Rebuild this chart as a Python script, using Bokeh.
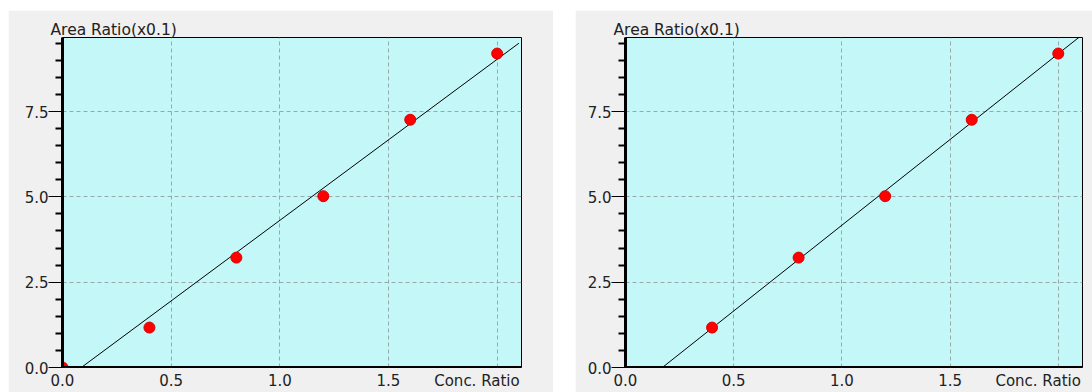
import numpy as np
from bokeh.plotting import figure
from bokeh.models import FixedTicker, Range1d, LinearAxis, Title
from bokeh.layouts import row
from bokeh.embed import file_html
from bokeh.resources import INLINE

# ---- data ----
conc_left = [0.0, 0.4, 0.8, 1.2, 1.6, 2.0]
area_left = [0.0, 1.17, 3.22, 5.02, 7.26, 9.20]
conc_right = [0.4, 0.8, 1.2, 1.6, 2.0]
area_right = [1.17, 3.22, 5.02, 7.26, 9.20]

x_major = [0.0, 0.5, 1.0, 1.5, 2.0]
x_minor = [0.1, 0.2, 0.3, 0.4, 0.6, 0.7, 0.8, 0.9, 1.1, 1.2, 1.3, 1.4,
           1.6, 1.7, 1.8, 1.9, 2.1]
y_major = [0.0, 2.5, 5.0, 7.5]
y_minor = [0.5, 1.0, 1.5, 2.0, 3.0, 3.5, 4.0, 4.5, 5.5, 6.0, 6.5, 7.0,
           8.0, 8.5, 9.0, 9.5]
x_label_pos = [0.0, 0.5, 1.0, 1.5, 1.907]
x_label_text = {0.0: "0.0", 0.5: "0.5", 1.0: "1.0", 1.5: "1.5", 1.907: "Conc. Ratio"}
y_labels = {0.0: "0.0", 2.5: "2.5", 5.0: "5.0", 7.5: "7.5"}
y_title = "Area Ratio(x0.1)"

X_END = 2.112
Y_END = 9.67
FONT = "DejaVu Sans"
TXT = "#222222"


def make_panel(xs, ys, width, margin, border_left, border_right):
    p = figure(width=width, height=382, output_backend="svg",
               toolbar_location=None,
               x_range=Range1d(0, X_END), y_range=Range1d(0, Y_END),
               min_border_left=border_left, min_border_right=border_right,
               min_border_top=27, min_border_bottom=25,
               background_fill_color="#c4f8f8",
               border_fill_color="#f0f0f0",
               outline_line_color="black", outline_line_width=1)
    p.margin = margin

    # primary x axis: labels only
    xa = p.xaxis[0]
    xa.ticker = FixedTicker(ticks=x_label_pos, minor_ticks=[])
    xa.major_label_overrides = x_label_text
    xa.axis_line_color = None
    xa.major_tick_line_color = None
    xa.minor_tick_line_color = None
    xa.major_tick_in = 0
    xa.major_tick_out = 0
    xa.minor_tick_in = 0
    xa.minor_tick_out = 0
    xa.major_label_standoff = 4
    xa.major_label_text_font = FONT
    xa.major_label_text_font_size = "15px"
    xa.major_label_text_color = TXT

    # tick-only axes pinned at y = 0 (long ticks at majors, short at minors)
    long_ticks = LinearAxis(fixed_location=0,
                            ticker=FixedTicker(ticks=[], minor_ticks=x_major),
                            axis_line_color="black", axis_line_width=3,
                            major_tick_line_color=None,
                            minor_tick_line_color="black",
                            minor_tick_line_width=2,
                            minor_tick_in=0, minor_tick_out=8)
    short_ticks = LinearAxis(fixed_location=0,
                             ticker=FixedTicker(ticks=[], minor_ticks=x_minor),
                             axis_line_color=None,
                             major_tick_line_color=None,
                             minor_tick_line_color="black",
                             minor_tick_line_width=2,
                             minor_tick_in=0, minor_tick_out=5)
    p.add_layout(long_ticks, "below")
    p.add_layout(short_ticks, "below")

    ya = p.yaxis[0]
    ya.ticker = FixedTicker(ticks=y_major, minor_ticks=y_minor)
    ya.major_label_overrides = y_labels
    ya.axis_line_width = 3
    ya.axis_line_color = "black"
    ya.major_tick_in = 0
    ya.minor_tick_in = 0
    ya.major_tick_out = 14
    ya.minor_tick_out = 7
    ya.major_tick_line_width = 1
    ya.minor_tick_line_width = 2
    ya.major_label_standoff = 0
    ya.major_label_text_font = FONT
    ya.major_label_text_font_size = "15px"
    ya.major_label_text_color = TXT

    for g in (p.xgrid[0], p.ygrid[0]):
        g.grid_line_color = "#98a8a8"
        g.grid_line_dash = "4 3"
        g.grid_line_width = 1
    p.xgrid[0].ticker = FixedTicker(ticks=x_major[1:])
    p.ygrid[0].ticker = FixedTicker(ticks=y_major[1:])

    # least squares calibration line
    slope, intercept = np.polyfit(xs, ys, 1)
    x0 = -intercept / slope
    lx = [x0, 2.1 if len(xs) == 6 else X_END]
    ly = [slope * v + intercept for v in lx]
    p.line(lx, ly, line_color="black", line_width=1)

    p.scatter(xs, ys, size=11, fill_color="#ff0000", line_color="#dd0000",
              line_width=1)

    p.add_layout(Title(text=y_title, align="left", offset=-12, standoff=-3,
                       text_font=FONT, text_font_size="15.5px",
                       text_font_style="normal", text_color=TXT), "above")
    return p


p1 = make_panel(conc_left, area_left, 545, (10, 0, 0, 8), 54, 32)
p2 = make_panel(conc_right, area_right, 517, (10, 0, 0, 22), 50, 10)

layout = row(p1, p2)
open("out.html", "w").write(file_html(layout, INLINE))
